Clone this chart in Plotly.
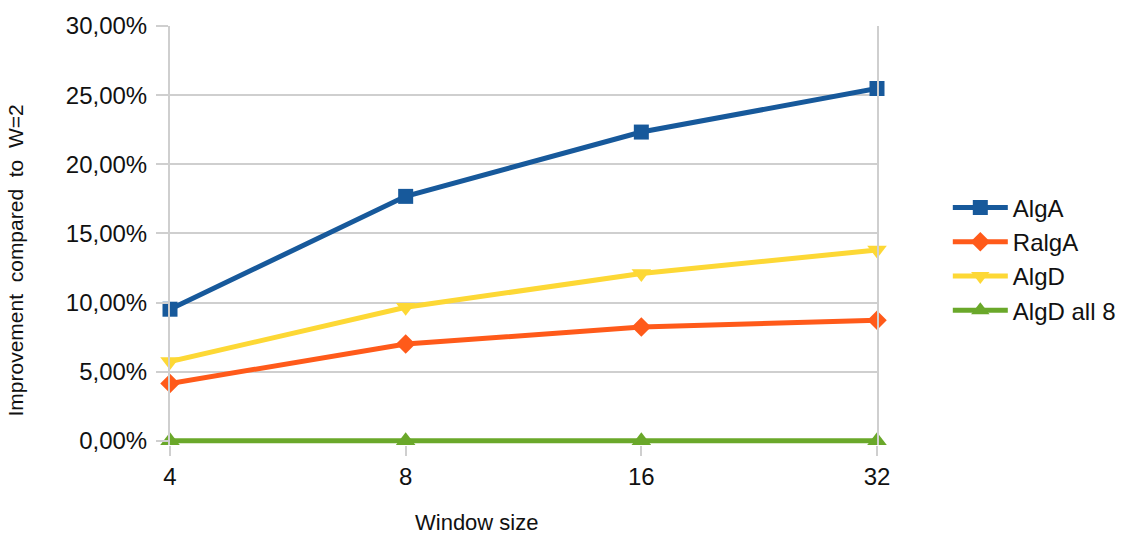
import plotly.graph_objects as go

# Window sizes (category axis) and improvement relative to W=2, as fractions
window_sizes = ["4", "8", "16", "32"]
alg_a = [0.0952, 0.1768, 0.2233, 0.2548]
ralg_a = [0.0415, 0.0700, 0.0823, 0.0873]
alg_d = [0.0573, 0.0966, 0.1210, 0.1380]
alg_d_all8 = [0.0, 0.0, 0.0, 0.0]

series = [
    ("AlgA", alg_a, "#17599b", "square", 15),
    ("RalgA", ralg_a, "#ff5a1a", "diamond", 15),
    ("AlgD", alg_d, "#fdd835", "triangle-down", 17),
    ("AlgD all 8", alg_d_all8, "#6aa82a", "triangle-up", 17),
]

fig = go.Figure()
for name, vals, color, symbol, size in series:
    fig.add_trace(go.Scatter(
        x=window_sizes, y=vals, name=name, mode="lines+markers",
        line=dict(color=color, width=5),
        marker=dict(symbol=symbol, size=size, color=color),
        cliponaxis=False,
    ))

grid = "#cfcfcf"
# small headroom below zero so the baseline series is not clipped
y_low = -0.003
fig.update_layout(
    width=1127, height=534,
    margin=dict(l=170, r=250, t=22, b=89),
    paper_bgcolor="white", plot_bgcolor="white",
    separators=",.",
    font=dict(family="Liberation Sans, Arial, sans-serif", color="#111111", size=24),
    showlegend=True,
    legend=dict(xref="container", yref="container", x=0.841, y=0.515,
                xanchor="left", yanchor="middle",
                font=dict(size=24), itemwidth=55, tracegroupgap=0,
                bgcolor="rgba(0,0,0,0)"),
    xaxis=dict(type="category", range=[0, 3], showgrid=False, zeroline=False,
               ticks="outside", ticklen=10, tickwidth=2, tickcolor=grid,
               showline=False, tickfont=dict(size=24)),
    yaxis=dict(range=[y_low, 0.30], tickvals=[0, 0.05, 0.10, 0.15, 0.20, 0.25, 0.30],
               tickformat=".2%",
               showgrid=True, gridcolor=grid, gridwidth=2, zeroline=False,
               showline=True, linecolor=grid, linewidth=2, mirror=True,
               ticks="outside", ticklen=12, tickwidth=2, tickcolor=grid,
               ticklabelstandoff=4, tickfont=dict(size=24)),
    annotations=[
        dict(text="Window size", xref="paper", yref="paper", x=0.433, y=-0.185,
             xanchor="center", yanchor="middle", showarrow=False,
             font=dict(size=22)),
        dict(text="Improvement  compared  to  W=2", xref="paper", yref="paper",
             x=-0.218, y=0.44, xanchor="center", yanchor="middle", textangle=-90,
             showarrow=False, font=dict(size=21)),
    ],
)

fig.write_html("out.html")
